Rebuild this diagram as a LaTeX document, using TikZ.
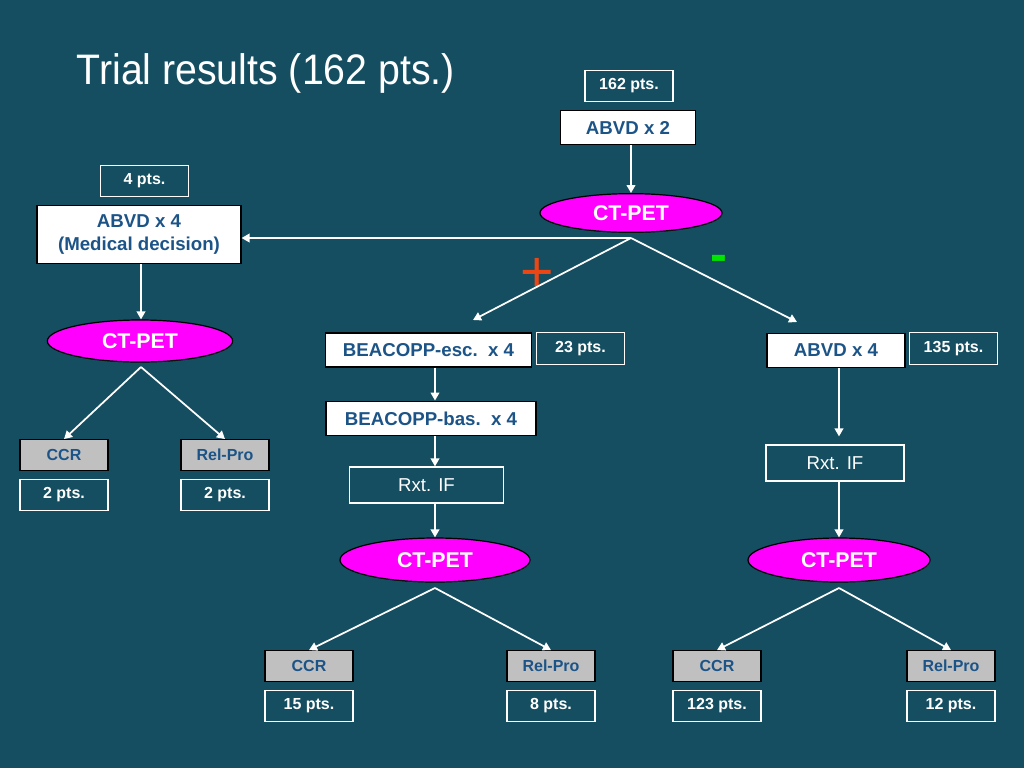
\documentclass[tikz,border=0pt]{standalone}
\usepackage{fontspec}
\setmainfont{Liberation Sans}
\usetikzlibrary{positioning,arrows.meta,shapes.geometric}
\definecolor{slidebg}{RGB}{20,78,96}
\definecolor{labelblue}{RGB}{28,84,135}
\definecolor{petpink}{RGB}{255,0,255}
\definecolor{plusred}{RGB}{235,70,20}
\definecolor{minusgreen}{RGB}{0,230,0}
\definecolor{outgray}{RGB}{192,192,192}
\tikzset{
  txbox/.style={draw=black, line width=0.9pt, fill=white, text=labelblue, inner sep=0pt, align=center,
    font=\bfseries\fontsize{14}{17}\selectfont},
  ptsbox/.style={draw=white, line width=0.9pt, text=white, inner sep=0pt,
    minimum width=66pt, minimum height=23.5pt, font=\bfseries\fontsize{12}{14}\selectfont},
  outbox/.style={draw=black, line width=0.9pt, fill=outgray, text=labelblue, inner sep=0pt,
    minimum width=66pt, minimum height=23pt, font=\bfseries\fontsize{12}{14}\selectfont},
  rxtbox/.style={draw=white, line width=0.9pt, text=white, inner sep=0pt,
    minimum height=27pt, font=\fontsize{14}{17}\selectfont},
  petnode/.style={ellipse, draw=black, line width=0.9pt, fill=petpink, text=white, inner sep=0pt,
    font=\bfseries\fontsize{16}{19}\selectfont},
  link/.style={draw=white, line width=1.3pt, -{Triangle[width=6.5pt,length=6pt]}}
}
\newcommand{\outcome}[5]{%
  \node[outbox] (#1) at (#2,#3) {#4};
  \node[ptsbox] (#1pts) at (#2,#3+40) {#5};}

\begin{document}
\begin{tikzpicture}[x=0.75pt, y=-0.75pt]
  \fill[slidebg] (0,0) rectangle (1024,768);
  \useasboundingbox (0,0) rectangle (1024,768);
  \node[anchor=west, text=white, font=\fontsize{32}{38}\selectfont] (title) at (72,73) {\scalebox{0.92}[1]{Trial results (162 pts.)}};

  \node[ptsbox] (toppts) at (629,86) {162 pts.};
  \node[txbox, minimum width=101pt, minimum height=26pt] (abvdtwo) at (628,127.5) {ABVD x 2};
  \node[petnode, minimum width=136.5pt, minimum height=29pt] (pettop) at (631,213) {CT-PET};
  \coordinate (splittop) at (631,238);

  \node[ptsbox] (leftpts) at (144.5,181) {4 pts.};
  \node[txbox, minimum width=153pt, minimum height=44pt] (abvdleft) at (139,234.5) {ABVD x 4\\(Medical decision)};
  \node[petnode, minimum width=139pt, minimum height=31.5pt] (petleft) at (140,341) {CT-PET};
  \coordinate (splitleft) at (141,367);
  \outcome{ccrleft}{64}{455}{CCR}{2 pts.}
  \outcome{relleft}{225}{455}{Rel-Pro}{2 pts.}

  \node[txbox, minimum width=154pt, minimum height=25.5pt] (escmid) at (428.5,350) {BEACOPP-esc.\ \ x 4};
  \node[ptsbox] (midpts) at (580.5,348.5) {23 pts.};
  \node[txbox, minimum width=157.5pt, minimum height=26pt] (basmid) at (431,418.5) {BEACOPP-bas.\ \ x 4};
  \node[rxtbox, minimum width=115pt] (rxtmid) at (426.5,485) {Rxt. IF};
  \node[petnode, minimum width=142.5pt, minimum height=33pt] (petmid) at (435,560) {CT-PET};
  \coordinate (splitmid) at (435,588);
  \outcome{ccrmid}{309}{666}{CCR}{15 pts.}
  \outcome{relmid}{551}{666}{Rel-Pro}{8 pts.}

  \node[txbox, minimum width=103.5pt, minimum height=26pt] (abvdright) at (836,350.5) {ABVD x 4};
  \node[ptsbox] (rightpts) at (953.5,348.5) {135 pts.};
  \node[rxtbox, minimum width=103.5pt] (rxtright) at (835,463) {Rxt. IF};
  \node[petnode, minimum width=136.5pt, minimum height=33pt] (petright) at (839,560) {CT-PET};
  \coordinate (splitright) at (839,588);
  \outcome{ccrright}{717}{666}{CCR}{123 pts.}
  \outcome{relright}{951}{666}{Rel-Pro}{12 pts.}

  \coordinate (escin) at (473,320);
  \coordinate (abvdin) at (797,322);
  \node[text=plusred, font=\fontsize{43}{48}\selectfont] (plus) at (537,275) {+};
  \node[text=minusgreen, font=\bfseries\fontsize{38}{42}\selectfont] (minus) at (719,263) {-};

  \draw[link] (abvdtwo.south -| pettop) -- (pettop.north);
  \draw[link] (splittop) -- (abvdleft.east |- splittop);
  \draw[link] (splittop) -- (escin);
  \draw[link] (splittop) -- (abvdin);

  \draw[link] (abvdleft.south -| splitleft) -- (petleft.north -| splitleft);
  \draw[link] (splitleft) -- (ccrleft.north);
  \draw[link] (splitleft) -- (relleft.north);

  \draw[link] (escmid.south -| petmid) -- (basmid.north -| petmid);
  \draw[link] (basmid.south -| petmid) -- (rxtmid.north -| petmid);
  \draw[link] (rxtmid.south -| petmid) -- (petmid.north);
  \draw[link] (splitmid) -- (ccrmid.north);
  \draw[link] (splitmid) -- (relmid.north);

  \draw[link, shorten >=6pt] (abvdright.south -| petright) -- (rxtright.north -| petright);
  \draw[link] (rxtright.south -| petright) -- (petright.north);
  \draw[link] (splitright) -- (ccrright.north);
  \draw[link] (splitright) -- (relright.north);
\end{tikzpicture}
\end{document}
